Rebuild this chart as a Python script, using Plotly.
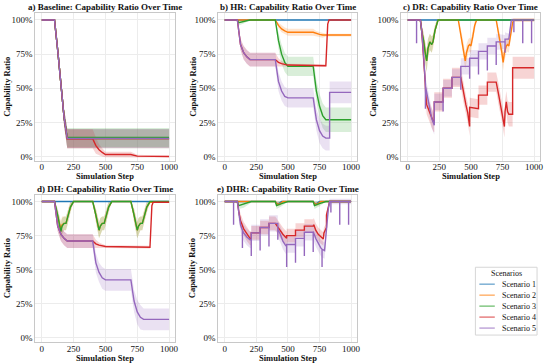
import plotly.graph_objects as go

# ---------------- DATA (x = simulation step, y = capability ratio %, w = band half-width %) ----------------
STEP_TICKS = [0, 250, 500, 750, 1000]
RATIO_TICKS = [0, 25, 50, 75, 100]
RATIO_LABELS = ["0%", "25%", "50%", "75%", "100%"]
SCENARIOS = ["Scenario 1", "Scenario 2", "Scenario 3", "Scenario 4", "Scenario 5"]
TITLES = ["a) Baseline: Capability Ratio Over Time", "b) HR: Capability Ratio Over Time",
          "c) DR: Capability Ratio Over Time", "d) DH: Capability Ratio Over Time",
          "e) DHR: Capability Ratio Over Time"]

FLAT = [(0, 100, 0), (1000, 100, 0)]

# a) Baseline
A1 = [(0, 100, 0), (100, 100, 0), (125, 78, 4), (150, 53, 5), (175, 29, 6), (200, 13, 7), (1000, 13, 7)]
A2 = [(0, 100, 0), (100, 100, 0), (125, 78, 4), (150, 53, 5), (175, 29, 6), (200, 13, 7), (1000, 13, 7)]
A3 = [(0, 100, 0), (100, 100, 0), (125, 78, 4), (150, 53, 5), (175, 29, 6), (200, 14, 7), (1000, 14, 7)]
A4 = [(0, 100, 0), (100, 100, 0), (125, 78, 4), (150, 53, 5), (175, 29, 6), (200, 13, 7), (400, 13, 7),
      (425, 8, 6), (450, 5, 4), (475, 3, 3), (500, 1.5, 2), (700, 1.5, 2), (725, 0.8, 1.5), (750, 0.3, 1),
      (1000, 0, 0.5)]
A5 = [(0, 100, 0), (100, 100, 0), (125, 78, 4), (150, 53, 5), (175, 29, 6), (200, 13.2, 7), (1000, 13.2, 7)]

# b) HR
B1 = FLAT
B2 = [(0, 100, 0), (400, 100, 0), (425, 96, 2), (450, 93.5, 2.5), (475, 92, 2.5), (500, 91, 2.5), (700, 91, 2.5),
      (725, 90, 2), (750, 89.5, 2), (775, 89, 2), (800, 89, 1), (1000, 89, 1)]
B3 = [(0, 100, 0), (100, 100, 0), (110, 98, 2), (150, 99, 1.5), (200, 100, 0), (400, 100, 0), (425, 85, 6),
      (450, 75, 7), (475, 69, 7), (500, 66, 7), (700, 66, 7), (725, 48, 8), (750, 37, 9), (775, 30, 9),
      (800, 27, 9), (1000, 27, 9)]
B4 = [(0, 100, 0), (100, 100, 0), (125, 82, 4), (150, 76, 5), (175, 73, 5), (200, 71, 5), (400, 71, 5),
      (425, 69, 3), (450, 68, 2), (500, 67, 1), (800, 66.5, 1), (805, 80, 0.5), (815, 97, 0), (825, 100, 0),
      (1000, 100, 0)]
B5 = [(0, 100, 0), (100, 100, 0), (125, 82, 4), (150, 76, 5), (175, 73, 5), (200, 71, 5), (400, 71, 5),
      (425, 55, 7), (450, 48, 7), (475, 44, 7), (500, 43, 7), (700, 43, 7), (725, 27, 8), (750, 19, 9),
      (775, 15, 9), (800, 13.5, 9), (830, 13.5, 9), (830, 47, 8), (1000, 47, 8)]

# c) DR
C1 = FLAT
C2 = [(0, 100, 0), (100, 100, 0), (110, 92, 4), (125, 85, 6), (140, 75, 8), (150, 70, 8), (160, 79, 7),
      (175, 84, 6), (190, 82, 6), (200, 84, 5), (215, 92, 4), (230, 98, 2), (240, 100, 0),
      (400, 100, 0), (415, 92, 4), (430, 85, 5), (445, 76, 6), (455, 70, 6), (465, 76, 6), (480, 81, 5),
      (490, 82, 5), (500, 81, 5), (515, 88, 4), (530, 96, 3), (545, 100, 0),
      (700, 100, 0), (715, 92, 4), (730, 85, 5), (745, 76, 6), (755, 69, 6), (765, 76, 6), (780, 81, 5),
      (790, 82, 5), (800, 81, 5), (815, 90, 4), (830, 98, 3), (840, 100, 1.5), (1000, 100, 1.5)]
C3 = [(0, 100, 0), (100, 100, 0), (110, 92, 4), (125, 85, 6), (140, 75, 8), (150, 70, 8), (160, 79, 7),
      (175, 84, 6), (190, 82, 6), (200, 84, 5), (215, 92, 4), (230, 98, 2), (240, 100, 0), (1000, 100, 0)]
C4 = [(0, 100, 0), (100, 100, 0), (110, 93, 4), (125, 75, 6), (138, 55, 7), (143, 45, 7), (150, 38, 7),
      (175, 32, 7), (190, 28, 7), (205, 25, 7), (210, 25, 7), (210, 40, 7), (280, 40, 7), (280, 50, 7),
      (350, 50, 7), (350, 58, 7), (420, 58, 7), (440, 47, 7), (460, 38, 7), (475, 32, 7), (490, 22, 7),
      (490, 36, 7), (560, 35, 7), (560, 45, 7), (630, 45, 7), (630, 54.5, 7), (700, 54.5, 7), (720, 45, 8),
      (740, 36, 8), (755, 28, 8), (765, 22, 8), (770, 33, 8), (780, 40, 8), (790, 33, 8), (800, 31, 9),
      (830, 31, 9), (830, 65, 8), (1000, 65, 8)]
C5 = [(0, 100, 0), (70, 100, 0), (70, 83, 0), (70, 100, 0), (100, 100, 0), (110, 93, 4), (125, 75, 6),
      (138, 56, 7), (140, 53, 7), (140, 35, 7), (141, 51, 7), (150, 47, 7), (160, 43, 7), (175, 35, 7),
      (190, 28, 7), (210, 23, 7), (210, 40, 6), (280, 40, 6), (280, 33, 6), (280, 50, 6), (350, 50, 6),
      (350, 58, 6), (420, 58, 6), (420, 49, 6), (420, 66, 6), (490, 66, 6), (490, 57, 6), (490, 72, 6),
      (560, 72, 6), (560, 60, 6), (560, 77, 6), (630, 77, 6), (630, 63, 6), (630, 81, 6), (700, 81, 6),
      (700, 67, 6), (700, 84, 6), (770, 84, 5), (770, 76, 5), (770, 86, 5), (800, 86, 4), (810, 92, 3),
      (820, 100, 1), (840, 100, 1), (840, 91, 1), (840, 100, 1), (910, 100, 1), (910, 83, 1), (910, 100, 1),
      (980, 100, 1), (980, 83, 1), (980, 100, 1), (1000, 100, 1)]

# d) DH
D1 = FLAT
D2 = [(0, 100, 0), (100, 100, 0), (125, 89, 5), (150, 80, 6), (160, 83, 6), (175, 84, 5), (190, 84, 5),
      (200, 87, 5), (225, 96, 4), (250, 100, 0), (400, 100, 0), (425, 90, 5), (450, 79, 6), (460, 82, 6),
      (475, 84, 5), (490, 84, 5), (500, 87, 5), (525, 96, 4), (550, 100, 0), (700, 100, 0), (725, 90, 5),
      (750, 79, 6), (760, 82, 6), (775, 84, 5), (790, 84, 5), (800, 87, 5), (825, 96, 4), (850, 99.5, 0.5),
      (1000, 99.5, 0.5)]
D3 = [(0, 100, 0), (100, 100, 0), (125, 90, 5), (150, 78, 6), (160, 82, 6), (175, 84, 5), (190, 84, 5),
      (200, 87, 5), (225, 96, 4), (250, 100, 0), (400, 100, 0), (425, 90, 5), (450, 79, 6), (460, 82, 6),
      (475, 84, 5), (490, 84, 5), (500, 87, 5), (525, 96, 4), (550, 100, 0), (700, 100, 0), (725, 90, 5),
      (750, 79, 6), (760, 82, 6), (775, 84, 5), (790, 84, 5), (800, 87, 5), (825, 96, 4), (850, 100, 0),
      (1000, 100, 0)]
D4 = [(0, 100, 0), (100, 100, 0), (125, 82, 4), (150, 76, 5), (175, 73, 5), (200, 71, 5), (400, 71, 5),
      (425, 69, 3), (450, 68, 2), (500, 67, 1), (850, 66.5, 1), (855, 80, 0.5), (865, 97, 0.5),
      (875, 99.5, 0.5), (1000, 99.5, 0.5)]
D5 = [(0, 100, 0), (100, 100, 0), (125, 82, 4), (150, 76, 5), (175, 73, 5), (200, 71, 5), (400, 71, 5),
      (425, 55, 7), (450, 48, 7), (475, 44, 8), (500, 42.5, 8), (700, 42.5, 8), (725, 27, 8), (750, 19, 9),
      (775, 15, 9), (800, 13.5, 8), (1000, 13.5, 8)]

# e) DHR
E1 = [(0, 100, 0), (400, 100, 0), (410, 98.5, 1), (430, 98.5, 1), (450, 100, 0), (700, 100, 0),
      (710, 98.5, 1), (730, 98.5, 1), (750, 100, 0), (1000, 100, 0)]
E2 = [(0, 100, 0), (400, 100, 0), (415, 98, 1.5), (440, 98.5, 1.5), (460, 100, 0), (700, 100, 0),
      (715, 98, 1.5), (740, 98.5, 1.5), (760, 100, 0), (1000, 100, 0)]
E3 = [(0, 100, 0), (100, 100, 0), (110, 97, 2.5), (150, 98, 2.5), (200, 99.5, 1), (210, 100, 0),
      (400, 100, 0), (410, 97, 2.5), (450, 98.5, 2), (500, 100, 0), (700, 100, 0), (710, 97, 2.5),
      (750, 98.5, 2), (800, 100, 0), (1000, 100, 0)]
E4 = [(0, 100, 0), (100, 100, 0), (112, 92, 4), (125, 86, 5), (150, 80, 5), (175, 76, 5), (200, 73, 5),
      (210, 73, 5), (210, 77, 5), (280, 77, 5), (280, 81, 5), (350, 81, 5), (350, 84, 5), (400, 84, 5),
      (420, 81, 5), (440, 78, 5), (460, 76, 5), (480, 74, 5), (490, 73, 5), (490, 75, 5), (560, 75, 5),
      (560, 79, 5), (630, 79, 5), (630, 82, 5), (700, 82, 5), (705, 83, 5), (720, 79, 5), (740, 76, 5),
      (760, 74, 5), (780, 72.5, 5), (785, 77, 4), (800, 81, 3), (805, 81, 3), (805, 90, 2), (820, 97, 1),
      (830, 100, 0), (1000, 100, 0)]
E5 = [(0, 100, 0), (70, 100, 0), (70, 83, 0), (70, 100, 0), (100, 100, 0), (112, 90, 4), (125, 83, 5),
      (140, 79, 6), (140, 66, 6), (140, 79, 6), (150, 77, 6), (175, 74, 6), (200, 72, 6), (210, 72, 6),
      (210, 60, 6), (210, 77, 6), (280, 77, 6), (280, 64, 6), (280, 81, 6), (350, 81, 6), (350, 67, 6),
      (350, 84, 6), (420, 84, 6), (420, 72, 6), (420, 80, 6), (440, 76, 6), (460, 71, 6), (480, 68, 6),
      (490, 67, 6), (490, 52, 6), (490, 68.5, 6), (560, 68.5, 6), (560, 55, 6), (560, 73, 6), (630, 73, 6),
      (630, 60, 6), (630, 77.5, 6), (700, 77.5, 6), (700, 63, 6), (700, 78, 6), (720, 73, 6), (740, 69, 6),
      (760, 66, 6), (770, 65, 6), (770, 52, 6), (770, 65, 6), (790, 64, 6), (800, 75, 5), (810, 88, 4),
      (820, 95, 3), (830, 100, 2), (840, 100, 2), (840, 92, 2), (840, 100, 2), (910, 100, 2), (910, 83, 2),
      (910, 100, 2), (980, 100, 2), (980, 83, 2), (980, 100, 2), (1000, 100, 2)]

PANELS = [[A1, A2, A3, A4, A5], [B1, B2, B3, B4, B5], [C1, C2, C3, C4, C5],
          [D1, D2, D3, D4, D5], [E1, E2, E3, E4, E5]]

# ---------------- STYLE ----------------
W, H = 550, 364
FONT = "Liberation Serif"
COLORS = ["#1f77b4", "#ff7f0e", "#2ca02c", "#d62728", "#9467bd"]
BANDS = ["rgba(31,119,180,0.22)", "rgba(255,127,14,0.2)", "rgba(44,160,44,0.18)",
         "rgba(214,39,40,0.2)", "rgba(148,103,189,0.2)"]
LEGEND_COLORS = ["rgba(31,119,180,0.55)", "rgba(255,127,14,0.55)", "rgba(44,160,44,0.55)",
                 "rgba(214,39,40,0.55)", "rgba(148,103,189,0.55)"]
Y_RANGE = [-3, 105]


def px(x):
    return x / W


def py(y):
    return 1 - y / H


# plot-area boxes in window pixels (left, right, top, bottom), y-title x position, x-title offset
BOXES = [(35.6, 176.4, 13.2, 161.1), (219.6, 359.4, 13.2, 161.1), (403.6, 543.4, 13.2, 161.1),
         (35.6, 176.4, 195.3, 342.8), (219.6, 359.4, 195.3, 342.8)]
YTITLE_X = [7, 194, 375, 7, 193]
XTITLE_OFF = [15.5, 15.5, 15.5, 16, 16]

fig = go.Figure()
layout_axes = {}
annotations = []
shapes = []

for i, (series, box) in enumerate(zip(PANELS, BOXES)):
    n = "" if i == 0 else str(i + 1)
    xa, ya = "x" + n, "y" + n
    for s, data in enumerate(series):
        xs = [p[0] for p in data]
        ys = [p[1] for p in data]
        ws = [p[2] for p in data]
        up = [y + w for y, w in zip(ys, ws)]
        lo = [y - w for y, w in zip(ys, ws)]
        fig.add_trace(go.Scatter(x=xs + xs[::-1], y=up + lo[::-1], fill="toself", fillcolor=BANDS[s],
                                 line=dict(width=0), mode="lines", hoverinfo="skip", showlegend=False,
                                 xaxis=xa, yaxis=ya))
    for s, data in enumerate(series):
        xs = [p[0] for p in data]
        ys = [p[1] for p in data]
        fig.add_trace(go.Scatter(x=xs, y=ys, mode="lines", line=dict(color=COLORS[s], width=1.4),
                                 name=SCENARIOS[s], showlegend=False, xaxis=xa, yaxis=ya))
    l, r, t, b = box
    axis_common = dict(showgrid=True, gridcolor="#ececec", gridwidth=0.6, showline=True,
                       linecolor="#c8c8c8", linewidth=1, mirror=True, ticks="", zeroline=False,
                       tickfont=dict(family=FONT, size=9, color="#111111"))
    layout_axes["xaxis" + n] = dict(domain=[px(l), px(r)], anchor=ya, range=[-50, 1050],
                                    tickvals=STEP_TICKS, ticktext=[str(v) for v in STEP_TICKS],
                                    ticklabelstandoff=-2, **axis_common)
    layout_axes["yaxis" + n] = dict(domain=[py(b), py(t)], anchor=xa, range=Y_RANGE,
                                    tickvals=RATIO_TICKS, ticktext=RATIO_LABELS, **axis_common)
    cx = (l + r) / 2
    annotations.append(dict(text="<b>" + TITLES[i] + "</b>", x=px(cx), y=py(t - 6), xref="paper",
                            yref="paper", xanchor="center", yanchor="middle", showarrow=False,
                            font=dict(family=FONT, size=9, color="#111111")))
    annotations.append(dict(text="<b>Simulation Step</b>", x=px(cx), y=py(b + XTITLE_OFF[i]), xref="paper",
                            yref="paper", xanchor="center", yanchor="middle", showarrow=False,
                            font=dict(family=FONT, size=8.5, color="#111111")))
    annotations.append(dict(text="<b>Capability Ratio</b>", x=px(YTITLE_X[i]), y=py((t + b) / 2),
                            xref="paper", yref="paper", xanchor="center", yanchor="middle", textangle=-90,
                            showarrow=False, font=dict(family=FONT, size=8.5, color="#111111")))

# manual legend
LX0, LX1, LY0, LY1 = 478, 540, 268, 336
shapes.append(dict(type="rect", xref="paper", yref="paper", x0=px(LX0), x1=px(LX1), y0=py(LY1), y1=py(LY0),
                   line=dict(color="#d6d6d6", width=1), fillcolor="white"))
annotations.append(dict(text="Scenarios", x=px((LX0 + LX1) / 2), y=py(274.5), xref="paper", yref="paper",
                        xanchor="center", yanchor="middle", showarrow=False,
                        font=dict(family=FONT, size=8, color="#111111")))
for s, name in enumerate(SCENARIOS):
    yy = 285 + s * 11
    shapes.append(dict(type="line", xref="paper", yref="paper", x0=px(482), x1=px(497.5), y0=py(yy), y1=py(yy),
                       line=dict(color=LEGEND_COLORS[s], width=1.6)))
    annotations.append(dict(text=name, x=px(503), y=py(yy), xref="paper", yref="paper", xanchor="left",
                            yanchor="middle", showarrow=False, font=dict(family=FONT, size=8, color="#111111")))

fig.update_layout(width=W, height=H, margin=dict(l=0, r=0, t=0, b=0), paper_bgcolor="white",
                  plot_bgcolor="white", showlegend=False, annotations=annotations, shapes=shapes,
                  font=dict(family=FONT), **layout_axes)

# remove the default page margin so the 550x364 figure fills the window exactly
fig.write_html("out.html", config={"displayModeBar": False},
               post_script="document.body.style.margin='0px';")
